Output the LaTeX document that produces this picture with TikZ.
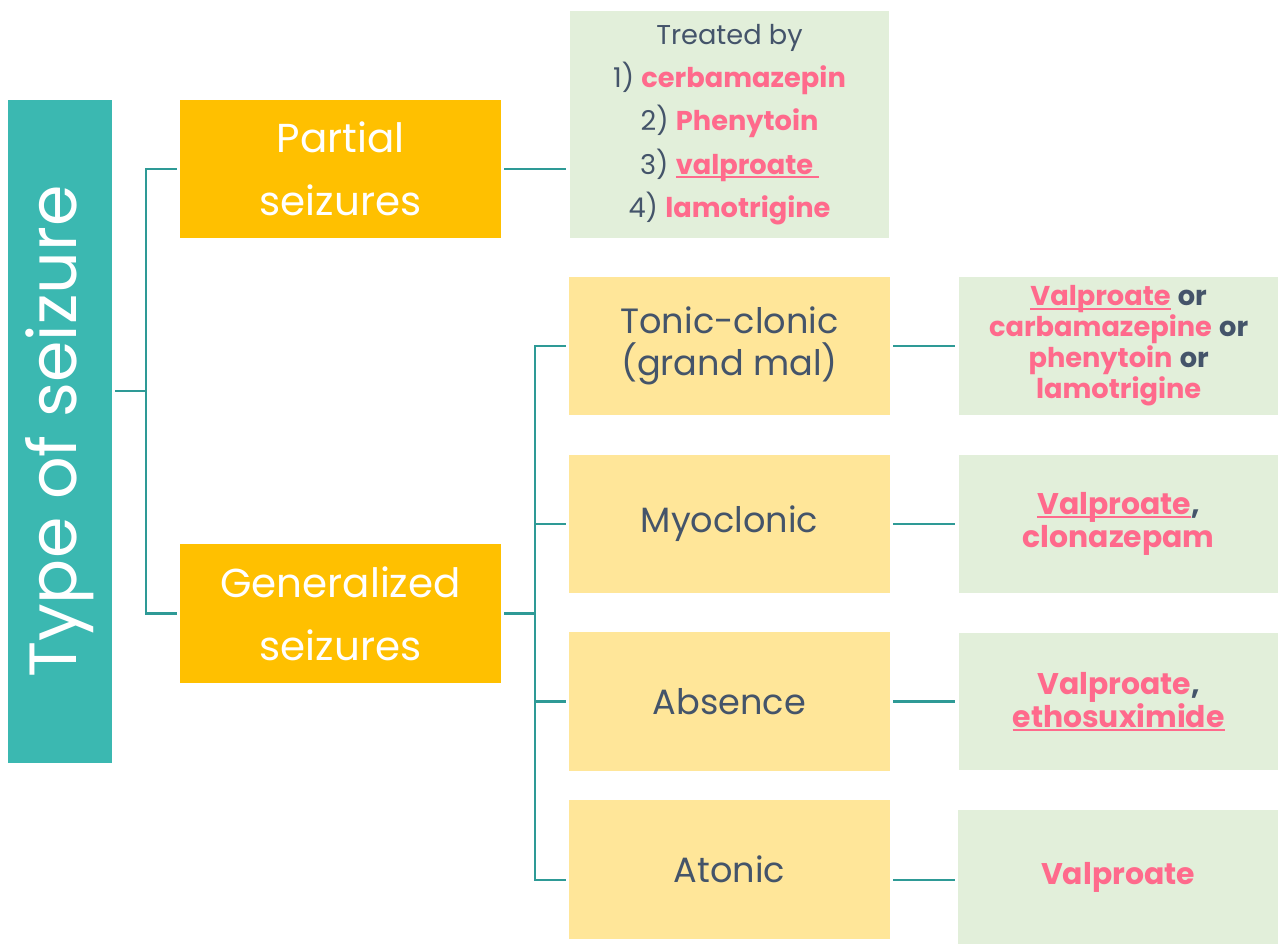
\documentclass[tikz,border=0pt]{standalone}
\usepackage{fontspec}
\setmainfont{Poppins}
\usetikzlibrary{positioning}

\definecolor{tealbox}{HTML}{3BB8B1}
\definecolor{tealline}{HTML}{2E9A96}
\definecolor{amber}{HTML}{FFC000}
\definecolor{paleamber}{HTML}{FFE699}
\definecolor{palegreen}{HTML}{E2EFDA}
\definecolor{slate}{HTML}{44546A}
\definecolor{rose}{HTML}{FF6A8C}

\newsavebox{\drugbox}
\newcommand{\drug}[1]{\textcolor{rose}{\bfseries #1}}
\newcommand{\drugul}[1]{\textcolor{rose}{\bfseries
    \sbox{\drugbox}{#1}\rlap{\rule[-2.2pt]{\wd\drugbox}{1.3pt}}\usebox{\drugbox}}}

\begin{document}
\begin{tikzpicture}[x=0.02cm, y=-0.02cm,
    typebox/.style={rectangle, fill=tealbox, text=white, inner sep=0pt,
        minimum width=13.26cm, minimum height=2.08cm, font=\fontsize{38}{40}\selectfont},
    classbox/.style={rectangle, fill=amber, text=white, align=center, inner sep=0pt,
        minimum width=6.42cm, minimum height=2.77cm, font=\fontsize{23}{36}\selectfont},
    kindbox/.style={rectangle, fill=paleamber, text=slate, align=center, inner sep=0pt,
        minimum width=6.42cm, minimum height=2.77cm, font=\fontsize{20}{23.5}\selectfont},
    rxbox/.style={rectangle, fill=palegreen, text=slate, align=center, inner sep=0pt,
        minimum width=6.4cm, minimum height=2.76cm, font=\fontsize{17}{18.8}\selectfont},
    link/.style={draw=tealline, line width=1.2pt}
]
\useasboundingbox (0,0) rectangle (1278,945);

% left column
\node[typebox, rotate=90] (type) at (60,431.5) {Type of seizure};
\node[classbox] (partial) at (340.5,169) {Partial\\seizures};
\node[classbox] (general) at (340.5,613.5) {Generalized\\seizures};

% middle column
\node[rxbox, minimum height=4.54cm, font=\fontsize{15.5}{24.7}\selectfont]
    (treated) at (729.5,124.5)
    {Treated by\\1) \drug{cerbamazepin}\\2) \drug{Phenytoin}\\
     3) \drugul{valproate\ }\\4) \drug{lamotrigine}};
\node[kindbox] (tonic) at (729.5,346) {Tonic-clonic\\(grand mal)};
\node[kindbox] (myo) at (729.5,524) {Myoclonic};
\node[kindbox] (absence) at (729.5,701.5) {Absence};
\node[kindbox] (atonic) at (729.5,869.5) {Atonic};

% right column
\node[rxbox, right=1.36cm of tonic, font=\fontsize{15.5}{17.6}\selectfont] (tonicrx)
    {\drugul{Valproate} \textbf{or}\\\drug{carbamazepine} \textbf{or}\\
     \drug{phenytoin} \textbf{or}\\\drug{lamotrigine}};
\node[rxbox, right=1.36cm of myo] (myorx) {\drugul{Valproate}\textbf{,}\\\drug{clonazepam}};
\node[rxbox, right=1.36cm of absence] (absencerx) {\drug{Valproate}\textbf{,}\\\drugul{ethosuximide}};
\node[rxbox, minimum height=2.68cm] (atonicrx) at (1118,877) {\drug{Valproate}};

% tree connectors
\coordinate (j1) at (146,391);
\coordinate (j2) at (535,613.5);
\draw[link] ([xshift=0.06cm]type.south |- j1) -- (j1);
\draw[link, shorten <=0.06cm, shorten >=0.06cm] (partial.west) -| (j1) |- (general.west);
\draw[link, shorten <=0.06cm, shorten >=0.06cm] (partial.east) -- (partial.east -| treated.west);
\draw[link, shorten <=0.06cm] (general.east) -- (j2);
\draw[link, shorten <=0.06cm, shorten >=0.06cm] (tonic.west) -| (j2) |- ([yshift=-0.21cm]atonic.west);
\draw[link, shorten <=0.06cm] (myo.west) -- (myo.west -| j2);
\draw[link, shorten <=0.06cm] (absence.west) -- (absence.west -| j2);
\draw[link, shorten <=0.06cm, shorten >=0.06cm] (tonic.east) -- (tonicrx.west);
\draw[link, shorten <=0.06cm, shorten >=0.06cm] (myo.east) -- (myorx.west);
\draw[link, shorten <=0.06cm, shorten >=0.06cm] (absence.east) -- (absencerx.west);
\draw[link, shorten <=0.06cm, shorten >=0.06cm] ([yshift=-0.21cm]atonic.east) -- ([yshift=-0.21cm]atonic.east -| atonicrx.west);
\end{tikzpicture}
\end{document}
